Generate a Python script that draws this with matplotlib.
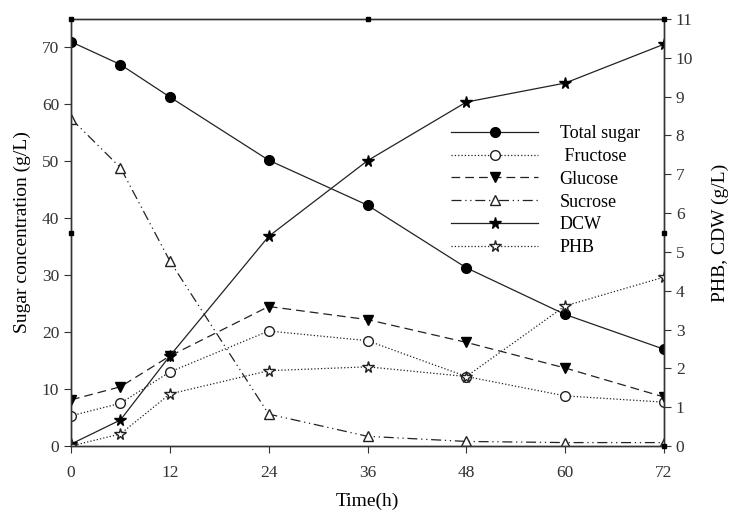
import numpy as np
import matplotlib
matplotlib.use('Agg')
import matplotlib.pyplot as plt

plt.rcParams['font.family'] = ['Liberation Serif', 'DejaVu Serif']

time = [0, 6, 12, 24, 36, 48, 60, 72]
total_sugar = [71.0, 67.0, 61.3, 50.2, 42.3, 31.3, 23.1, 17.0]
fructose = [5.3, 7.5, 13.0, 20.2, 18.5, 12.2, 8.8, 7.7]
glucose = [8.1, 10.4, 15.8, 24.5, 22.2, 18.2, 13.7, 8.6]
sucrose = [57.5, 48.9, 32.5, 5.6, 1.7, 0.8, 0.6, 0.6]
dcw = [0.05, 0.67, 2.32, 5.4, 7.35, 8.86, 9.35, 10.35]
phb = [0.0, 0.31, 1.34, 1.94, 2.04, 1.79, 3.61, 4.35]

x_ticks = [0, 12, 24, 36, 48, 60, 72]
left_ticks = [0, 10, 20, 30, 40, 50, 60, 70]
right_ticks = list(range(0, 12))

lc = '#222222'
ms = 7
fig = plt.figure(figsize=(7.34, 5.15), dpi=100)
ax = fig.add_axes([71/734, 1 - 446/515, (664 - 71)/734, (446 - 19)/515])
ax2 = ax.twinx()

h1, = ax.plot(time, total_sugar, '-', color=lc, lw=0.9, marker='o', ms=ms, mfc='black', mec='black', label='Total sugar')
h2, = ax.plot(time, fructose, ':', color=lc, lw=0.9, marker='o', ms=ms, mfc='white', mec=lc, label=' Fructose')
h3, = ax.plot(time, glucose, '--', color=lc, lw=0.9, dashes=(7, 4), marker='v', ms=ms, mfc='black', mec='black', label='Glucose')
h4, = ax.plot(time, sucrose, color=lc, lw=0.9, dashes=(8, 3, 1, 3, 1, 3), marker='^', ms=ms, mfc='white', mec=lc, label='Sucrose')
h5, = ax2.plot(time, dcw, '-', color=lc, lw=0.9, marker='*', ms=ms + 1.5, mfc='black', mec='black', label='DCW')
h6, = ax2.plot(time, phb, ':', color=lc, lw=0.9, marker='*', ms=ms + 1.5, mfc='white', mec=lc, label='PHB')

ax.set_xlim(0, 72)
ax.set_ylim(0, 75)
ax2.set_ylim(0, 11)
ax.set_xticks(x_ticks)
ax.set_yticks(left_ticks)
ax2.set_yticks(right_ticks)
ax.tick_params(axis='both', labelsize=12.5, direction='out', length=5, width=0.8, colors='#333333')
ax2.tick_params(axis='y', labelsize=12.5, direction='out', length=5, width=0.8, colors='#333333')
ax.tick_params(axis='x', pad=9)
for a in (ax, ax2):
    for s in a.spines.values():
        s.set_linewidth(1.0)
        s.set_color('#333333')

ax.set_xlabel('Time(h)', fontsize=14, labelpad=8)
ax.set_ylabel('Sugar concentration (g/L)', fontsize=14, labelpad=8)
ax2.set_ylabel('PHB, CDW (g/L)', fontsize=14, rotation=90, labelpad=13)

# small square marks on the frame
sq = [(0, 1), (0.5, 1), (1, 1), (0, 0.5), (1, 0.5), (1, 0)]
for xs, ys in sq:
    ax2.plot(xs, ys, 's', color='black', ms=3, transform=ax2.transAxes, clip_on=False, zorder=5)

leg = ax2.legend(handles=[h1, h2, h3, h4, h5, h6], loc='upper left',
                 bbox_to_anchor=((444 - 71)/593, 1 - (118 - 19)/427),
                 frameon=False, fontsize=13, handlelength=4.8, handletextpad=1.2,
                 labelspacing=0.32, borderaxespad=0)

fig.savefig('out.png', dpi=100)
